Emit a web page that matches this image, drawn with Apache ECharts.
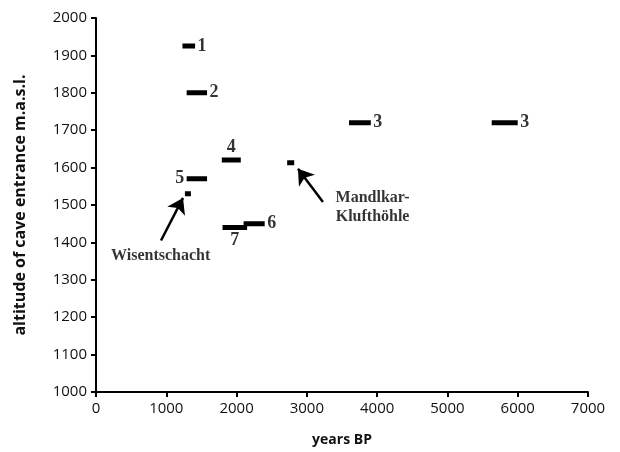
<!DOCTYPE html>
<html>
<head>
<meta charset="utf-8">
<script src="https://cdn.jsdelivr.net/npm/echarts@6/dist/echarts.min.js"></script>
<style>html,body{margin:0;padding:0;background:#fff;}#c{width:620px;height:452px;}</style>
</head>
<body>
<div id="c"></div>
<script>
// ---- data ----
const xTicks = [0, 1000, 2000, 3000, 4000, 5000, 6000, 7000];
const yTicks = [1000, 1100, 1200, 1300, 1400, 1500, 1600, 1700, 1800, 1900, 2000];
const barLabels   = ['1', '2', '3', '3', '4', '5', '6', '7'];
const barStart    = [1230, 1290, 3600, 5630, 1790, 1290, 2100, 1800];
const barEnd      = [1410, 1580, 3910, 6000, 2060, 1580, 2400, 2150];
const barAltitude = [1925, 1800, 1720, 1720, 1620, 1570, 1450, 1440];
const caveNames    = ['Wisentschacht', 'Mandlkar-\nKlufthöhle'];
const caveStart    = [1265, 2720];
const caveEnd      = [1350, 2820];
const caveAltitude = [1530, 1613];
const arrowFrom = [[925, 1405], [3229, 1508]];
const arrowTo   = [[1238, 1519], [2873, 1597]];
const caveTextAt = [[920, 1365], [3935, 1494]];

// label placement per bar (which end, position)
const labelPlace = [
  {end: 1, pos: 'right'}, {end: 1, pos: 'right'}, {end: 1, pos: 'right'}, {end: 1, pos: 'right'},
  {center: true, pos: 'top'}, {end: 0, pos: 'left'}, {end: 1, pos: 'right'}, {center: true, pos: 'bottom'}
];

const series = [];
barLabels.forEach((lab, i) => {
  const p = labelPlace[i];
  const pts = [[barStart[i], barAltitude[i]], [barEnd[i], barAltitude[i]]];
  series.push({
    type: 'line', data: pts, symbol: 'none', silent: true, animation: false,
    lineStyle: {color: '#000', width: 5, cap: 'butt'}
  });
  const lx = p.center ? (barStart[i] + barEnd[i]) / 2 : pts[p.end][0];
  series.push({
    type: 'scatter', data: [[lx, barAltitude[i]]], symbolSize: 1, silent: true, animation: false,
    itemStyle: {color: 'rgba(0,0,0,0)'},
    label: {show: true, position: p.pos, distance: p.center ? 3 : 2, formatter: lab,
      fontFamily: 'Liberation Serif', fontWeight: 'bold', fontSize: 18, color: '#000'}
  });
});
caveNames.forEach((n, i) => {
  series.push({
    type: 'line', data: [[caveStart[i], caveAltitude[i]], [caveEnd[i], caveAltitude[i]]],
    symbol: 'none', silent: true, animation: false,
    lineStyle: {color: '#000', width: 5, cap: 'butt'}
  });
  series.push({
    type: 'scatter', data: [caveTextAt[i]], symbolSize: 1, silent: true, animation: false,
    itemStyle: {color: 'rgba(0,0,0,0)'},
    label: {show: true, position: 'inside', formatter: n,
      fontFamily: 'Liberation Serif', fontWeight: 'bold', fontSize: 16, color: '#000',
      lineHeight: 19, align: 'center'}
  });
});
series.push({
  type: 'lines', coordinateSystem: 'cartesian2d', silent: true, animation: false,
  symbol: ['none', 'arrow'], symbolSize: [9, 15],
  lineStyle: {color: '#000', width: 2.5, opacity: 1},
  data: arrowFrom.map((f, i) => ({coords: [f, arrowTo[i]]}))
});

const axisFont = {fontFamily: 'Open Sans', fontSize: 15, color: '#111'};
const chart = echarts.init(document.getElementById('c'), null, {renderer: 'canvas'});
chart.setOption({
  backgroundColor: '#fff',
  animation: false,
  grid: {left: 96, right: 32, top: 18, bottom: 59, containLabel: false},
  xAxis: {
    type: 'value', min: xTicks[0], max: xTicks[xTicks.length - 1], interval: 1000,
    name: 'years BP', nameLocation: 'middle', nameGap: 41,
    nameTextStyle: {fontFamily: 'Open Sans', fontWeight: 'bold', fontSize: 14, color: '#111'},
    axisLine: {lineStyle: {color: '#000', width: 2}},
    axisTick: {show: true, length: 5, inside: false, lineStyle: {color: '#000', width: 2}},
    axisLabel: Object.assign({margin: 9, formatter: v => String(v)}, axisFont),
    splitLine: {show: false}
  },
  yAxis: {
    type: 'value', min: yTicks[0], max: yTicks[yTicks.length - 1], interval: 100,
    name: 'altitude of cave entrance m.a.s.l.', nameLocation: 'middle', nameGap: 68, nameRotate: 90,
    nameTextStyle: {fontFamily: 'Open Sans', fontWeight: 'bold', fontSize: 16, color: '#111'},
    axisLine: {show: true, lineStyle: {color: '#000', width: 2}},
    axisTick: {show: true, length: 5, inside: false, lineStyle: {color: '#000', width: 2}},
    axisLabel: Object.assign({margin: 9, formatter: v => String(v)}, axisFont),
    splitLine: {show: false}
  },
  series: series
});
</script>
</body>
</html>
